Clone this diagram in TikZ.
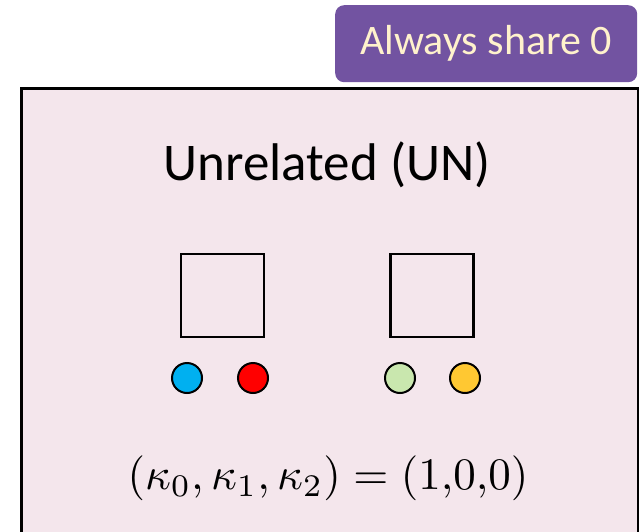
\documentclass[tikz,border=0pt]{standalone}
\usepackage{fontspec}
\setmainfont{Carlito}
\definecolor{bgpink}{HTML}{F4E6EC}
\definecolor{tagpurple}{HTML}{7253A1}
\definecolor{tagtext}{HTML}{FFF2CC}
\definecolor{cblue}{HTML}{00B0F0}
\definecolor{cred}{HTML}{FF0000}
\definecolor{cgreen}{HTML}{C9E7AE}
\definecolor{cyellow}{HTML}{FFC832}
\tikzset{
  person/.style={draw=black, line width=2.5pt, minimum size=83pt, inner sep=0pt},
  allele/.style={circle, draw=black, line width=2pt, minimum size=30pt, inner sep=0pt},
}
\begin{document}
\begin{tikzpicture}[x=1pt,y=-1pt]
\useasboundingbox (0,0) rectangle (639,532);
\node[draw=black, fill=bgpink, line width=3pt, minimum width=617pt, minimum height=460pt, inner sep=0pt, anchor=north west] (panel) at (20,87) {};
\node[fill=tagpurple, rounded corners=9pt, minimum width=302pt, minimum height=77pt, inner sep=0pt, anchor=north west, text=tagtext, font=\fontsize{42}{50}\selectfont] (tag) at (335,5) {Always share 0};
\node[font=\fontsize{53}{60}\selectfont] (title) at (327,165) {Unrelated (UN)};
\node[person] (p1) at (222.5,295.5) {};
\node[person] (p2) at (432,295.5) {};
\node[allele, fill=cblue] (a1) at (187,378) {};
\node[allele, fill=cred] (a2) at (253,378) {};
\node[allele, fill=cgreen] (a3) at (400,378) {};
\node[allele, fill=cyellow] (a4) at (465,378) {};
\node[font=\fontsize{10}{12}\selectfont, scale=4.5, inner sep=0pt] (eq) at (328,478) {$(\kappa_0,\kappa_1,\kappa_2)=(1{,}0{,}0)$};
\end{tikzpicture}
\end{document}
